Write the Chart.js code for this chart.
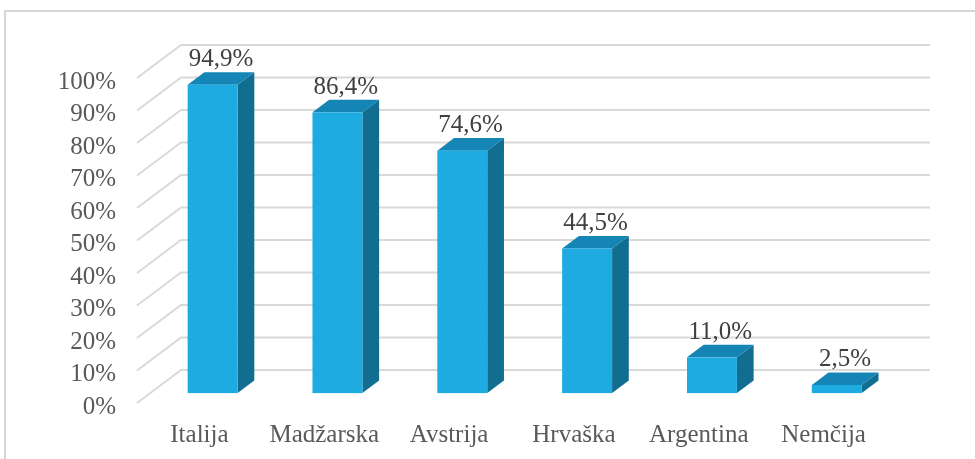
<!DOCTYPE html>
<html>
<head>
<meta charset="utf-8">
<script src="https://cdn.jsdelivr.net/npm/chart.js@4"></script>
<style>
  body { margin: 0; background: #fff; }
  #wrap { position: relative; width: 975px; height: 459px; }
</style>
</head>
<body>
<div id="wrap"><canvas id="myChart" width="975" height="459"></canvas></div>
<script>
const countries = ["Italija", "Madžarska", "Avstrija", "Hrvaška", "Argentina", "Nemčija"];
const shares = [94.9, 86.4, 74.6, 44.5, 11.0, 2.5];
const yTicks = [0, 10, 20, 30, 40, 50, 60, 70, 80, 90, 100];

// floor depth of the 3d box, and where the bars sit inside it
const depthX = 44;
const depthY = 33;
const barFront = 0.3;
const barBack = 0.68;

const frontColor = "#1eabe2";
const sideColor = "#116e91";
const topColor = "#1585b5";
const gridColor = "#d9d9d9";
const labelFont = "'Liberation Serif'";

function fmt(v) {
  return v.toFixed(1).replace(".", ",") + "%";
}

const frame3d = {
  id: "frame3d",
  beforeDraw(chart) {
    const ctx = chart.ctx;
    ctx.save();
    ctx.strokeStyle = "#d6d6d6";
    ctx.lineWidth = 2;
    ctx.beginPath();
    ctx.moveTo(5, 459);
    ctx.lineTo(5, 11);
    ctx.lineTo(975, 11);
    ctx.stroke();
    ctx.restore();
  },
  beforeDatasetsDraw(chart) {
    const ctx = chart.ctx;
    const area = chart.chartArea;
    const y = chart.scales.y;
    ctx.save();
    ctx.strokeStyle = gridColor;
    ctx.lineWidth = 2;
    yTicks.forEach((t) => {
      const py = y.getPixelForValue(t);
      ctx.beginPath();
      ctx.moveTo(area.left, py);
      ctx.lineTo(area.left + depthX, py - depthY);
      ctx.lineTo(area.right + depthX, py - depthY);
      ctx.stroke();
    });
    ctx.restore();
  },
  afterDatasetsDraw(chart) {
    const ctx = chart.ctx;
    const meta = chart.getDatasetMeta(0);
    const ox = depthX * barFront;
    const oy = depthY * barFront;
    const dx = depthX * (barBack - barFront);
    const dy = depthY * (barBack - barFront);
    ctx.save();
    meta.data.forEach((bar, i) => {
      const w = bar.width;
      const xl = bar.x - w / 2 + ox;
      const xr = xl + w;
      const top = bar.y - oy;
      const bottom = bar.base - oy;

      // side
      ctx.fillStyle = sideColor;
      ctx.beginPath();
      ctx.moveTo(xr, bottom);
      ctx.lineTo(xr + dx, bottom - dy);
      ctx.lineTo(xr + dx, top - dy);
      ctx.lineTo(xr, top);
      ctx.closePath();
      ctx.fill();

      // top
      ctx.fillStyle = topColor;
      ctx.beginPath();
      ctx.moveTo(xl, top);
      ctx.lineTo(xl + dx, top - dy);
      ctx.lineTo(xr + dx, top - dy);
      ctx.lineTo(xr, top);
      ctx.closePath();
      ctx.fill();

      // front
      ctx.fillStyle = frontColor;
      ctx.fillRect(xl, top, w, bottom - top);

      // value label
      ctx.fillStyle = "#404040";
      ctx.font = "25px " + labelFont;
      ctx.textAlign = "center";
      ctx.textBaseline = "bottom";
      ctx.fillText(fmt(shares[i]), (xl + xr + dx) / 2, top - dy);
    });
    ctx.restore();
  }
};

new Chart("myChart", {
  type: "bar",
  data: {
    labels: countries,
    datasets: [
      {
        data: shares,
        backgroundColor: "rgba(0,0,0,0)",
        borderWidth: 0,
        categoryPercentage: 1,
        barPercentage: 0.4,
      },
    ],
  },
  options: {
    responsive: false,
    animation: false,
    devicePixelRatio: 1,
    layout: { padding: { left: 0, top: 78, right: 89, bottom: 0 } },
    plugins: {
      legend: { display: false },
      tooltip: { enabled: false },
    },
    scales: {
      x: {
        grid: { display: false, drawTicks: false },
        border: { display: false },
        ticks: {
          color: "#595959",
          font: { family: labelFont, size: 25 },
          padding: 17,
          maxRotation: 0,
          autoSkip: false,
        },
        afterFit(scale) {
          scale.height = 56;
        },
      },
      y: {
        min: 0,
        max: 100,
        grid: { display: false, drawTicks: false },
        border: { display: false },
        ticks: {
          stepSize: 10,
          autoSkip: false,
          color: "#595959",
          font: { family: labelFont, size: 25, lineHeight: 1 },
          padding: 21,
          labelOffset: 4,
          callback: (v) => v + "%",
        },
        afterFit(scale) {
          scale.width = 137;
        },
      },
    },
  },
  plugins: [frame3d],
});
</script>
</body>
</html>
